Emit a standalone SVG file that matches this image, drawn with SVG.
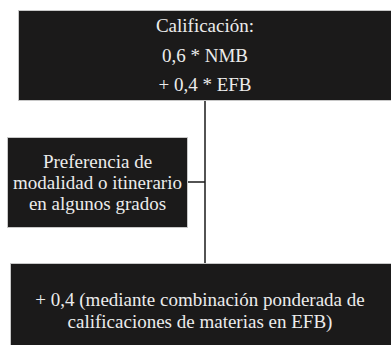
<svg xmlns="http://www.w3.org/2000/svg" width="391" height="345" viewBox="0 0 391 345">
<style>
.box{fill:#1b1a1a;stroke:#c8c8c8;stroke-width:1}
.t{font-family:'Liberation Serif','Times New Roman','DejaVu Serif',serif;font-size:19px;fill:#ececec;text-anchor:middle}
.c{stroke:#1a1a1a;stroke-width:1.5;fill:none}
</style>
<rect width="391" height="345" fill="#ffffff"/>
<g id="connectors">
<line class="c" x1="205" y1="100" x2="205" y2="263"/>
<line class="c" x1="187" y1="182" x2="205" y2="182"/>
</g>
<g id="node-top">
<rect class="box" x="18.5" y="10.5" width="373" height="90"/>
<text class="t" x="205" y="32">Calificación:</text>
<text class="t" x="205" y="62">0,6 * NMB</text>
<text class="t" x="205" y="91">+ 0,4 * EFB</text>
</g>
<g id="node-middle">
<rect class="box" x="7.5" y="137.5" width="180" height="90"/>
<text class="t" x="97.5" y="168">Preferencia de</text>
<text class="t" x="97.5" y="189">modalidad o itinerario</text>
<text class="t" x="97.5" y="210">en algunos grados</text>
</g>
<g id="node-bottom">
<rect class="box" x="10.5" y="263.5" width="381" height="82"/>
<text class="t" x="200" y="306">+ 0,4 (mediante combinación ponderada de</text>
<text class="t" x="200" y="328">calificaciones de materias en EFB)</text>
</g>
</svg>
